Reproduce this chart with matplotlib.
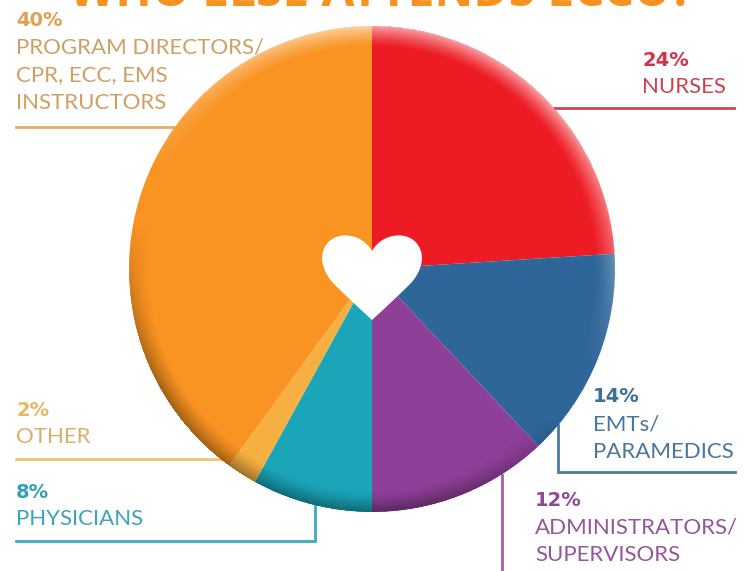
from __future__ import annotations

import matplotlib

matplotlib.use("Agg")
import matplotlib.pyplot as plt
import numpy as np
from matplotlib.patches import PathPatch
from matplotlib.path import Path

WIDTH = 744
HEIGHT = 571
CENTER = (372, 269)
RADIUS = 243

# clockwise from twelve o'clock
SHARES = [24, 14, 12, 8, 2, 40]
PERCENT_LABELS = ["24%", "14%", "12%", "8%", "2%", "40%"]
CATEGORY_LABELS = [
    ["NURSES"],
    ["EMTs/", "PARAMEDICS"],
    ["ADMINISTRATORS/", "SUPERVISORS"],
    ["PHYSICIANS"],
    ["OTHER"],
    ["PROGRAM DIRECTORS/", "CPR, ECC, EMS", "INSTRUCTORS"],
]
SLICE_COLORS = ["#ed1c24", "#2f6699", "#8e3f98", "#1aa5b8", "#f5b041", "#f99321"]
TEXT_COLORS = ["#c8434f", "#4a769c", "#94569b", "#3fa3b7", "#d9ae6a", "#cfa063"]
PERCENT_COLORS = ["#d0334a", "#3d6f98", "#8e4a95", "#35a0b5", "#e8b860", "#e0a050"]
LINE_COLORS = ["#cf4655", "#4a7aa3", "#a060a8", "#3cacbd", "#f3c272", "#e8ac62"]
TITLE = "WHO ELSE ATTENDS ECCU?"

# x, y of the percent line, then line spacing comes from LINE_STEP
TEXT_POS = [(642, 60), (593, 397), (535, 500), (16, 492), (16, 410), (16, 20)]
LINE_STEP = 27.7
LEADERS = [
    ([553, 734], [108, 108]),
    ([558, 558, 735], [425, 472, 472]),
    ([502, 502], [475, 571]),
    ([16, 315, 315], [541, 541, 505]),
    ([16, 225], [459, 459]),
    ([16, 178], [127, 127]),
]


def rim_shading() -> np.ndarray:
    # light from the upper right, dark towards the lower left
    yy, xx = np.mgrid[0:HEIGHT, 0:WIDTH]
    dx = (xx + 0.5 - CENTER[0]) / RADIUS
    dy = (yy + 0.5 - CENTER[1]) / RADIUS
    r = np.hypot(dx, dy)
    rim = np.clip((r - 0.915) / 0.085, 0, 1) ** 1.3
    rim[r > 1] = 0
    safe_r = np.maximum(r, 1e-6)
    facing = (0.4 * dx - 0.92 * dy) / safe_r
    light = np.clip(facing / 0.9, 0, 1) * rim * 0.58
    dark = np.clip((-facing - 0.2) / 0.6, 0, 1) * rim * 0.36
    rgba = np.zeros((HEIGHT, WIDTH, 4))
    rgba[..., :3] = np.where((light > 0)[..., None], 1.0, 0.0)
    rgba[..., 3] = light + dark
    return rgba


def heart_patch() -> PathPatch:
    cx, notch, tip = 372, 251, 320
    verts = [
        (cx, notch),
        (cx + 10, 233), (cx + 36, 230), (cx + 46, 245),
        (cx + 55, 258), (cx + 47, 275), (cx + 38, 284),
        (cx + 25, 297), (cx + 12, 309), (cx, tip),
        (cx - 12, 309), (cx - 25, 297), (cx - 38, 284),
        (cx - 47, 275), (cx - 55, 258), (cx - 46, 245),
        (cx - 36, 230), (cx - 10, 233), (cx, notch),
    ]
    codes = [Path.MOVETO] + [Path.CURVE4] * 18
    return PathPatch(Path(verts, codes), facecolor="white", edgecolor="none", zorder=6)


def main() -> None:
    fig = plt.figure(figsize=(WIDTH / 100, HEIGHT / 100), dpi=100)
    ax = fig.add_axes([0, 0, 1, 1])

    for (xs, ys), color in zip(LEADERS, LINE_COLORS):
        ax.plot(xs, ys, color=color, lw=2.0, solid_joinstyle="miter", zorder=1)

    # y axis is inverted below, so counterclock runs clockwise on screen
    ax.pie(
        SHARES,
        colors=SLICE_COLORS,
        startangle=-90,
        counterclock=True,
        center=CENTER,
        radius=RADIUS,
        wedgeprops={"linewidth": 0, "zorder": 3},
    )
    ax.imshow(
        rim_shading(),
        extent=(0, WIDTH, HEIGHT, 0),
        interpolation="bilinear",
        zorder=4,
        aspect="auto",
    )
    ax.add_patch(heart_patch())

    ax.set_xlim(0, WIDTH)
    ax.set_ylim(HEIGHT, 0)
    ax.set_aspect("auto")
    ax.axis("off")

    # the heading is cropped by the top edge in the reference too
    ax.text(
        381, 6, TITLE, color="#f8911e", fontsize=34.5, fontweight="bold",
        family="Open Sans", ha="center", va="baseline", zorder=7,
    )

    for (x, y), pct, lines, pct_color, color in zip(
        TEXT_POS, PERCENT_LABELS, CATEGORY_LABELS, PERCENT_COLORS, TEXT_COLORS
    ):
        ax.text(x, y, pct, color=pct_color, fontsize=14, fontweight="bold",
                family="DejaVu Sans", ha="left", va="center", zorder=7)
        for i, line in enumerate(lines):
            ax.text(x, y + LINE_STEP * (i + 1) - 0.5, line, color=color, fontsize=16,
                    family="Lato", ha="left", va="center", zorder=7)

    fig.savefig("out.png", dpi=100)
    plt.close(fig)


if __name__ == "__main__":
    main()
